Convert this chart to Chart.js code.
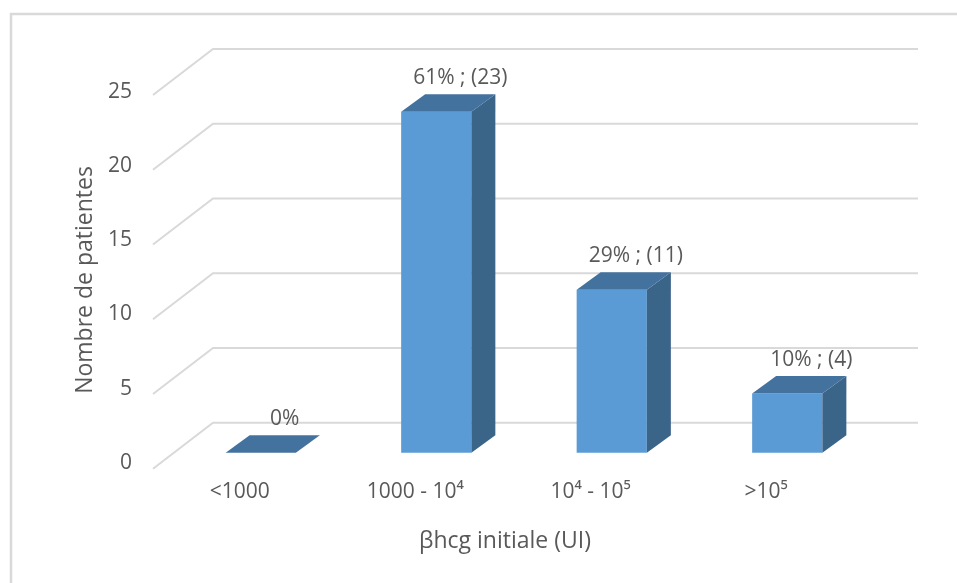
<!DOCTYPE html>
<html>
<head>
<meta charset="utf-8">
<script src="https://cdn.jsdelivr.net/npm/chart.js@4.4.0/dist/chart.umd.min.js"></script>
<style>
  html, body { margin: 0; padding: 0; background: #fff; }
  #wrap { width: 957px; height: 583px; }
</style>
</head>
<body>
<div id="wrap"><canvas id="chart"></canvas></div>
<script>
const categories = ["<1000", "1000 - 10⁴", "10⁴ - 10⁵", ">10⁵"]
const patients = [0, 23, 11, 4]
const percents = [0, 61, 29, 10]
const yTicks = [0, 5, 10, 15, 20, 25]

const TEXT = "#595959"
const GRID = "#D9D9D9"
const FONT = "'Open Sans', sans-serif"

// fake depth: bar top/side offset, and where the walls sit relative to the bar plane
const BAR_DX = 24
const BAR_DY = -17.5
const BACK = { dx: 40, dy: -30 }
const FRONT = { dx: -20, dy: 16 }

const pseudo3d = {
  id: "pseudo3d",

  beforeDraw(chart) {
    const ctx = chart.ctx
    ctx.save()
    ctx.strokeStyle = GRID
    ctx.lineWidth = 2.5
    ctx.strokeRect(11, 14, chart.width + 40, chart.height + 40)
    ctx.restore()
  },

  beforeDatasetsDraw(chart) {
    const { ctx, chartArea, scales } = chart
    const y = scales.y
    const y0 = y.getPixelForValue(0)
    ctx.save()
    ctx.strokeStyle = GRID
    ctx.lineWidth = 2
    yTicks.forEach(v => {
      const py = y0 + (y.getPixelForValue(v) - y0) * 1.008
      const by = py + BACK.dy
      ctx.beginPath()
      ctx.moveTo(chartArea.left + FRONT.dx, py + FRONT.dy)
      ctx.lineTo(chartArea.left + BACK.dx, by)
      ctx.lineTo(chartArea.right + 43, by)
      ctx.stroke()
    })
    ctx.restore()
  },

  afterDatasetsDraw(chart) {
    const ctx = chart.ctx
    const bars = chart.getDatasetMeta(0).data
    ctx.save()
    bars.forEach((bar, i) => {
      const { x, y, base, width } = bar.getProps(["x", "y", "base", "width"], true)
      const l = x - width / 2
      const r = x + width / 2

      // side face
      if (base - y > 0.5) {
        ctx.fillStyle = "#3B6489"
        ctx.beginPath()
        ctx.moveTo(r, y)
        ctx.lineTo(r + BAR_DX, y + BAR_DY)
        ctx.lineTo(r + BAR_DX, base + BAR_DY)
        ctx.lineTo(r, base)
        ctx.closePath()
        ctx.fill()
      }

      // top face
      ctx.fillStyle = "#44729E"
      ctx.beginPath()
      ctx.moveTo(l, y)
      ctx.lineTo(l + BAR_DX, y + BAR_DY)
      ctx.lineTo(r + BAR_DX, y + BAR_DY)
      ctx.lineTo(r, y)
      ctx.closePath()
      ctx.fill()

      // value label
      const txt = patients[i] > 0 ? `${percents[i]}% ; (${patients[i]})` : `${percents[i]}%`
      ctx.fillStyle = TEXT
      ctx.font = `21px ${FONT}`
      ctx.textAlign = "center"
      ctx.textBaseline = "middle"
      ctx.fillText(txt, x + BAR_DX, y + BAR_DY - 16)
    })
    ctx.restore()
  },

  afterDraw(chart) {
    const { ctx, chartArea } = chart
    ctx.save()
    ctx.fillStyle = TEXT
    ctx.font = `23px ${FONT}`
    ctx.textAlign = "center"
    ctx.textBaseline = "middle"
    ctx.fillText("βhcg initiale (UI)", (chartArea.left + chartArea.right) / 2 - 19, 541)
    ctx.restore()
  }
}

new Chart(document.getElementById("chart"), {
  type: "bar",
  data: {
    labels: categories,
    datasets: [{
      data: patients,
      backgroundColor: "#5B9BD5",
      barPercentage: 0.5,
      categoryPercentage: 0.8
    }]
  },
  options: {
    responsive: true,
    maintainAspectRatio: false,
    animation: false,
    layout: { padding: { left: 72, top: 82, right: 82, bottom: 75 } },
    plugins: {
      legend: { display: false },
      tooltip: { enabled: false }
    },
    scales: {
      x: {
        grid: { display: false, drawTicks: false },
        border: { display: false },
        ticks: {
          color: TEXT,
          font: { family: FONT, size: 21 },
          padding: 1,
          labelOffset: -21
        },
        afterFit: s => { s.height = 30 }
      },
      y: {
        min: -1.7,
        max: 25,
        afterBuildTicks: s => { s.ticks = yTicks.map(v => ({ value: v })) },
        grid: { display: false, drawTicks: false },
        border: { display: false },
        ticks: {
          color: TEXT,
          font: { family: FONT, size: 21 },
          padding: 41,
          labelOffset: 10
        },
        title: {
          display: true,
          text: "Nombre de patientes",
          color: TEXT,
          font: { family: FONT, size: 23 },
          padding: 0
        },
        afterFit: s => { s.width = 101 }
      }
    }
  },
  plugins: [pseudo3d]
})
</script>
</body>
</html>
